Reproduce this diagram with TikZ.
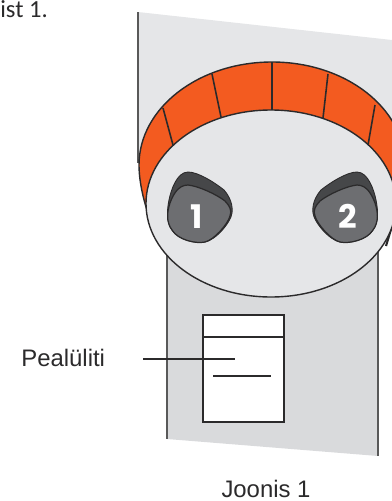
\documentclass[tikz,border=0pt]{standalone}
\usepackage{fontspec}
\setmainfont{Liberation Sans}
\newfontfamily\digitfont{Poppins}
\newfontfamily\notefont{Carlito}
\usetikzlibrary{positioning}
\definecolor{plateup}{HTML}{E5E6E8}
\definecolor{platelow}{HTML}{D9DADC}
\definecolor{ringorange}{HTML}{F35B20}
\definecolor{knobdark}{HTML}{464749}
\definecolor{knobgray}{HTML}{6D6E71}
\definecolor{inkdark}{HTML}{2B2A2B}
\newcommand{\knobshape}{%
  \path[knobouter] (188,172) .. controls (198,172) and (214,182) .. (224,190)
    .. controls (230,197) and (233,205) .. (232,213) .. controls (231,222) and (216,240) .. (205,242)
    .. controls (196,244) and (178,240) .. (172,230) .. controls (166,222) and (167,210) .. (169,200)
    .. controls (171,190) and (177,172) .. (188,172) -- cycle;
  \path[knobinner] (188,185) .. controls (198,186) and (216,194) .. (225,201)
    .. controls (230,206) and (232,211) .. (230,216) .. controls (228,224) and (214,240) .. (205,242)
    .. controls (196,244) and (178,240) .. (172,230) .. controls (166,222) and (167,212) .. (170,203)
    .. controls (173,195) and (178,185) .. (188,185) -- cycle;
}
\begin{document}
\begin{tikzpicture}[
  x=0.02cm, y=-0.02cm,
  plate/.style={fill=#1, draw=none},
  edgeline/.style={draw=black!65, line width=1pt},
  ring/.style={fill=ringorange, draw=inkdark, line width=0.8pt},
  tick/.style={draw=inkdark, line width=0.9pt},
  face/.style={fill=plateup, draw=inkdark, line width=0.8pt},
  knobouter/.style={fill=knobdark, draw=inkdark, line width=0.5pt},
  knobinner/.style={fill=knobgray, draw=inkdark, line width=0.7pt},
  knobnum/.style={font=\digitfont\bfseries\fontsize{18.5}{18.5}\selectfont, text=white, inner sep=0pt},
  switch/.style={fill=white, draw=inkdark, line width=0.8pt},
  lbl/.style={font=\fontsize{13.6}{15}\selectfont, text=inkdark, inner sep=0pt},
]
\useasboundingbox (0,0) rectangle (392,501);
\clip (0,0) rectangle (392,501);

% top text
\node[font=\notefont\fontsize{14}{16}\selectfont, text=inkdark, inner sep=0pt, anchor=base west] (note) at (0,17) {ist 1.};

% lower plate
\path[plate=platelow] (167,200) -- (378,200) -- (378,456) -- (167,439) -- cycle;
\draw[edgeline] (167,200) -- (167,439);
\draw[edgeline] (378,200) -- (378,456);

% upper plate
\path[plate=plateup] (138,12) -- (392,40) -- (392,178) -- (138,163) -- cycle;
\draw[edgeline] (138,12) -- (138,163);
\draw[edgeline, draw=inkdark, line width=1.2pt] (392,226) -- (386,246);

% orange ring
\path[ring] (146,207) .. controls (141,190) and (139,176) .. (139,165)
  arc[start angle=180, end angle=0, x radius=133, y radius=-103]
  .. controls (405,176) and (403,190) .. (398,207) -- cycle;
\draw[tick] (163,108) -- (173,145);
\draw[tick] (212,74) -- (221,117);
\draw[tick] (272,62) -- (272,110);
\draw[tick] (328,74) -- (323,118);
\draw[tick] (375,105) -- (368,145);

% white face
\path[face] (271,203.5) ellipse[x radius=125, y radius=93.5];

% knobs
\knobshape
\begin{scope}[xshift=545*0.02cm, xscale=-1]
  \knobshape
\end{scope}
\node[knobnum] (n1) at (197,217) {1};
\node[knobnum] (n2) at (348,216) {2};

% main switch
\path[switch] (203,315) rectangle (284,422);
\draw[switch] (203,337) -- (284,337);
\draw[switch] (213,376) -- (271,376);

% label
\node[lbl, anchor=base west] (pealuliti) at (21,366) {Pealüliti};
\coordinate (leadstart) at (143,359);
\coordinate (leadend) at (235,359);
\draw[switch] (leadstart) -- (leadend);

% caption
\node[lbl, anchor=base] (caption) at (266,497) {Joonis 1};
\end{tikzpicture}
\end{document}
